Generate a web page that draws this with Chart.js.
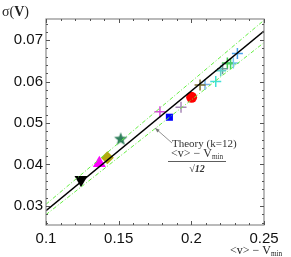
<!DOCTYPE html>
<html><head><meta charset="utf-8">
<script src="https://cdn.jsdelivr.net/npm/chart.js@4"></script>
<style>html,body{margin:0;padding:0;background:#fff}#w{width:291px;height:257px}</style>
</head><body><div id="w"><canvas id="c" width="291" height="257"></canvas></div>
<script>
// ---- data ----
const xTicks = [0.1, 0.15, 0.2, 0.25];
const yTicks = [0.03, 0.04, 0.05, 0.06, 0.07];
const lineX = [0.1, 0.25];
const theoryY = [0.02887, 0.07217];
const upperY = [0.0304, 0.0748];
const lowerY = [0.0279, 0.0694];
// filled markers
const markNames = ['downTri', 'triangle', 'diamond', 'star', 'square', 'circle'];
const markX = [0.1241, 0.1367, 0.1422, 0.1514, 0.1849, 0.2002];
const markY = [0.0363, 0.0403, 0.0416, 0.0461, 0.0514, 0.0562];
const markColors = ['#000000', '#ff00ff', '#b4aa10', '#2f7f5c', '#0000ff', '#ff0000'];
// plus-shaped markers
const plusX = [0.1784, 0.1929, 0.2060, 0.2094, 0.2168, 0.2202, 0.2215, 0.2248, 0.2289, 0.2317, 0.2270];
const plusY = [0.0527, 0.0538, 0.0592, 0.0593, 0.0600, 0.0626, 0.0631, 0.0645, 0.0645, 0.0668, 0.0643];
const plusColors = ['#d84cd8', '#a888b8', '#7e7232', '#78b4ec', '#40e0d8', '#5fd0c8', '#6a9a98', '#40cc50', '#78c8f0', '#4aa4ec', '#40d060'];

function starCanvas(color, r) {
  const c = document.createElement('canvas');
  const s = Math.ceil(r * 2 + 2); c.width = s; c.height = s;
  const g = c.getContext('2d'); g.fillStyle = color; g.beginPath();
  for (let i = 0; i < 10; i++) {
    const a = -Math.PI / 2 + i * Math.PI / 5; const rr = i % 2 ? r * 0.42 : r;
    g.lineTo(s / 2 + rr * Math.cos(a), s / 2 + rr * Math.sin(a));
  }
  g.closePath(); g.fill(); return c;
}

const styleMap = {
  downTri: {pointStyle: 'triangle', rotation: 180, radius: 7.5},
  triangle: {pointStyle: 'triangle', rotation: 0, radius: 7.5},
  diamond: {pointStyle: 'rectRot', rotation: 0, radius: 6.5},
  star: {pointStyle: starCanvas('#2f7f5c', 7), rotation: 0, radius: 7},
  square: {pointStyle: 'rect', rotation: 0, radius: 5},
  circle: {pointStyle: 'circle', rotation: 0, radius: 5.5}
};

const datasets = [];
const lineDs = (ys, color, dash, w) => ({type: 'line', data: lineX.map((x, i) => ({x, y: ys[i]})),
  borderColor: color, borderWidth: w, borderDash: dash, pointRadius: 0, fill: false, tension: 0});
datasets.push(lineDs(upperY, '#66ee44', [4, 2, 1, 2], 1));
datasets.push(lineDs(lowerY, '#66ee44', [4, 2, 1, 2], 1));
datasets.push(lineDs(theoryY, '#000000', [], 1.5));
plusX.forEach((x, i) => datasets.push({data: [{x, y: plusY[i]}], pointStyle: 'cross', pointRadius: 5.5,
  borderColor: plusColors[i], backgroundColor: plusColors[i], borderWidth: 1.5}));
markNames.forEach((n, i) => {
  const s = styleMap[n];
  datasets.push({data: [{x: markX[i], y: markY[i]}], pointStyle: s.pointStyle, rotation: s.rotation,
    pointRadius: s.radius, backgroundColor: markColors[i], borderColor: markColors[i], borderWidth: 0});
});

const frame = {
  id: 'frame',
  afterDatasetsDraw(chart) {
    const {ctx, chartArea: a, scales: {x, y}} = chart;
    ctx.save();
    ctx.strokeStyle = '#8c8c8c'; ctx.lineWidth = 1.2;
    ctx.strokeRect(a.left, a.top, a.right - a.left, a.bottom - a.top);
    ctx.strokeStyle = '#555'; ctx.lineWidth = 1;
    const tick = (px, len, vert) => {
      ctx.beginPath();
      if (vert) { ctx.moveTo(px, a.bottom); ctx.lineTo(px, a.bottom - len); ctx.moveTo(px, a.top); ctx.lineTo(px, a.top + len); }
      else { ctx.moveTo(a.left, px); ctx.lineTo(a.left + len, px); ctx.moveTo(a.right, px); ctx.lineTo(a.right - len, px); }
      ctx.stroke();
    };
    for (let k = 0; k <= 15; k++) { const v = 0.1 + k * 0.01; tick(Math.round(x.getPixelForValue(v)) + 0.5, k % 5 ? 2 : 4, true); }
    for (let k = 0; k <= 25; k++) { const v = 0.026 + k * 0.002; if (v > y.max) break; const major = Math.abs((v * 100) - Math.round(v * 100)) < 1e-6; tick(Math.round(y.getPixelForValue(v)) + 0.5, major ? 4 : 2, false); }
    // annotation
    const tipX = x.getPixelForValue(0.175), tipY = y.getPixelForValue(0.0488);
    const sx = tipX + 17, sy = tipY + 15;
    ctx.strokeStyle = '#777'; ctx.lineWidth = 0.8;
    ctx.beginPath(); ctx.moveTo(sx, sy); ctx.lineTo(tipX, tipY); ctx.stroke();
    const ang = Math.atan2(tipY - sy, tipX - sx);
    ctx.fillStyle = '#777'; ctx.beginPath(); ctx.moveTo(tipX, tipY);
    ctx.lineTo(tipX - 5 * Math.cos(ang - 0.35), tipY - 5 * Math.sin(ang - 0.35));
    ctx.lineTo(tipX - 5 * Math.cos(ang + 0.35), tipY - 5 * Math.sin(ang + 0.35)); ctx.fill();
    ctx.fillStyle = '#333'; ctx.textBaseline = 'middle'; ctx.textAlign = 'left';
    ctx.font = '11px "Liberation Serif"';
    ctx.fillText('Theory (k=12)', sx, sy + 1);
    // fraction
    const cx = sx + 25, ny = sy + 11;
    const vm = (x0, yy, size) => {
      ctx.font = size + 'px "Liberation Serif"'; ctx.textAlign = 'left';
      const a1 = '<v> \u2212 V'; const w1 = ctx.measureText(a1).width;
      ctx.font = (size * 0.6) + 'px "Liberation Serif"'; const w2 = ctx.measureText('min').width;
      const start = x0 - (w1 + w2) / 2;
      ctx.font = size + 'px "Liberation Serif"'; ctx.fillText(a1, start, yy);
      ctx.font = (size * 0.6) + 'px "Liberation Serif"'; ctx.fillText('min', start + w1, yy + size * 0.25);
    };
    vm(cx, ny, 12);
    ctx.strokeStyle = '#333'; ctx.lineWidth = 0.8;
    ctx.beginPath(); ctx.moveTo(cx - 29, ny + 7.5); ctx.lineTo(cx + 29, ny + 7.5); ctx.stroke();
    ctx.textAlign = 'center'; ctx.font = 'italic bold 10px "Liberation Serif"';
    ctx.fillText('\u221A12', cx, ny + 15);
    // axis titles
    ctx.fillStyle = '#222';
    vm(256, 251, 12);
    ctx.textAlign = 'left'; ctx.font = '14px "Liberation Serif"';
    ctx.fillText('\u03C3(', 2, 12); let w = ctx.measureText('\u03C3(').width;
    ctx.font = 'bold 14px "Liberation Serif"'; ctx.fillText('V', 2 + w, 12); w += ctx.measureText('V').width;
    ctx.font = '14px "Liberation Serif"'; ctx.fillText(')', 2 + w, 12);
    ctx.restore();
  }
};

new Chart(document.getElementById('c'), {
  type: 'scatter',
  data: {datasets},
  options: {
    responsive: false, animation: false, devicePixelRatio: 1,
    layout: {padding: {left: 0, right: 27, top: 19, bottom: 0}},
    plugins: {legend: {display: false}, tooltip: {enabled: false}},
    scales: {
      x: {type: 'linear', min: 0.1, max: 0.25,
        afterBuildTicks: s => { s.ticks = xTicks.map(v => ({value: v})); },
        afterFit: s => { s.height = 32; },
        grid: {display: false, drawTicks: false}, border: {display: false},
        ticks: {padding: 5, color: '#111', font: {family: '"Liberation Sans"', size: 15}, maxRotation: 0,
          callback: v => String(Math.round(v * 100) / 100)}},
      y: {type: 'linear', min: 0.0254, max: 0.0751,
        afterBuildTicks: s => { s.ticks = yTicks.map(v => ({value: v})); },
        afterFit: s => { s.width = 46; },
        grid: {display: false, drawTicks: false}, border: {display: false},
        ticks: {padding: 3, color: '#111', font: {family: '"Liberation Sans"', size: 15},
          callback: v => (Math.round(v * 100) / 100).toFixed(2)}}
    }
  },
  plugins: [frame]
});
</script></body></html>
